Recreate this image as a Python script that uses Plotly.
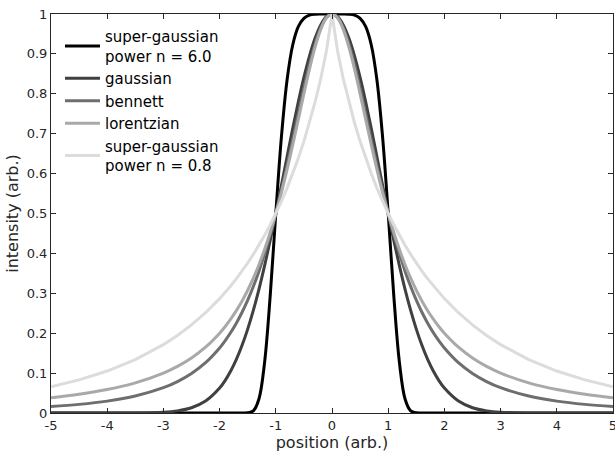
import plotly.graph_objects as go

# ----------------------------------------
# Data
# ----------------------------------------

position = [
    -5, -4.5, -4, -3.5, -3, -2.75, -2.5, -2.25,
    -2.0, -1.9, -1.8, -1.7, -1.6, -1.5, -1.4, -1.3, -1.2, -1.1,
    -1.0, -0.9, -0.8, -0.7, -0.6, -0.5, -0.4, -0.3, -0.2, -0.1,
    0,
    0.1, 0.2, 0.3, 0.4, 0.5, 0.6, 0.7, 0.8, 0.9, 1.0,
    1.1, 1.2, 1.3, 1.4, 1.5, 1.6, 1.7, 1.8, 1.9, 2.0,
    2.25, 2.5, 2.75, 3, 3.5, 4, 4.5, 5
]

super_gaussian_6 = [
    0, 0, 0, 0, 0, 0, 0, 0,
    0, 0, 0, 0, 0, 0.0004, 0.0054, 0.0352, 0.1262, 0.2929,
    0.5, 0.6918, 0.8339, 0.9217, 0.9682, 0.9892, 0.9972, 0.9995, 1.0, 1.0,
    1.0,
    1.0, 1.0, 0.9995, 0.9972, 0.9892, 0.9682, 0.9217, 0.8339, 0.6918, 0.5,
    0.2929, 0.1262, 0.0352, 0.0054, 0.0004, 0, 0, 0, 0, 0,
    0, 0, 0, 0, 0, 0, 0, 0
]

gaussian = [
    0, 0, 0, 0.0002, 0.0020, 0.0053, 0.0131, 0.0299,
    0.0625, 0.0819, 0.1058, 0.1349, 0.1696, 0.2102, 0.2570, 0.3099, 0.3686, 0.4323,
    0.5, 0.5704, 0.6417, 0.7120, 0.7792, 0.8409, 0.8950, 0.9395, 0.9727, 0.9931,
    1.0,
    0.9931, 0.9727, 0.9395, 0.8950, 0.8409, 0.7792, 0.7120, 0.6417, 0.5704, 0.5,
    0.4323, 0.3686, 0.3099, 0.2570, 0.2102, 0.1696, 0.1349, 0.1058, 0.0819, 0.0625,
    0.0299, 0.0131, 0.0053, 0.0020, 0.0002, 0, 0, 0
]

bennett = [
    0.0161, 0.0216, 0.0298, 0.0426, 0.0634, 0.0788, 0.0991, 0.1262,
    0.1631, 0.1814, 0.2022, 0.2257, 0.2524, 0.2827, 0.3169, 0.3555, 0.3988, 0.4469,
    0.5, 0.5578, 0.6196, 0.6843, 0.7500, 0.8142, 0.8739, 0.9256, 0.9658, 0.9913,
    1.0,
    0.9913, 0.9658, 0.9256, 0.8739, 0.8142, 0.7500, 0.6843, 0.6196, 0.5578, 0.5,
    0.4469, 0.3988, 0.3555, 0.3169, 0.2827, 0.2524, 0.2257, 0.2022, 0.1814, 0.1631,
    0.1262, 0.0991, 0.0788, 0.0634, 0.0426, 0.0298, 0.0216, 0.0161
]

lorentzian = [
    0.0385, 0.0471, 0.0588, 0.0755, 0.1000, 0.1168, 0.1379, 0.1649,
    0.2000, 0.2169, 0.2358, 0.2571, 0.2809, 0.3077, 0.3378, 0.3717, 0.4098, 0.4525,
    0.5, 0.5525, 0.6098, 0.6711, 0.7353, 0.8000, 0.8621, 0.9174, 0.9615, 0.9901,
    1.0,
    0.9901, 0.9615, 0.9174, 0.8621, 0.8000, 0.7353, 0.6711, 0.6098, 0.5525, 0.5,
    0.4525, 0.4098, 0.3717, 0.3378, 0.3077, 0.2809, 0.2571, 0.2358, 0.2169, 0.2000,
    0.1649, 0.1379, 0.1168, 0.1000, 0.0755, 0.0588, 0.0471, 0.0385
]

super_gaussian_08 = [
    0.0657, 0.0830, 0.1052, 0.1339, 0.1714, 0.1944, 0.2208, 0.2513,
    0.2867, 0.3024, 0.3191, 0.3368, 0.3557, 0.3759, 0.3975, 0.4205, 0.4451, 0.4716,
    0.5, 0.5306, 0.5636, 0.5994, 0.6382, 0.6808, 0.7275, 0.7795, 0.8382, 0.9067,
    1.0,
    0.9067, 0.8382, 0.7795, 0.7275, 0.6808, 0.6382, 0.5994, 0.5636, 0.5306, 0.5,
    0.4716, 0.4451, 0.4205, 0.3975, 0.3759, 0.3557, 0.3368, 0.3191, 0.3024, 0.2867,
    0.2513, 0.2208, 0.1944, 0.1714, 0.1339, 0.1052, 0.0830, 0.0657
]

x_ticks = [-5, -4, -3, -2, -1, 0, 1, 2, 3, 4, 5]
x_tick_labels = ["-5", "-4", "-3", "-2", "-1", "0", "1", "2", "3", "4", "5"]
y_ticks = [0, 0.1, 0.2, 0.3, 0.4, 0.5, 0.6, 0.7, 0.8, 0.9, 1]
y_tick_labels = ["0", "0.1", "0.2", "0.3", "0.4", "0.5", "0.6", "0.7", "0.8", "0.9", "1"]

series = [
    ("super-gaussian<br>power n = 6.0", super_gaussian_6, "#000000", "spline"),
    ("gaussian", gaussian, "#404040", "spline"),
    ("bennett", bennett, "#6e6e6e", "spline"),
    ("lorentzian", lorentzian, "#a9a9a9", "spline"),
    ("super-gaussian<br>power n = 0.8", super_gaussian_08, "#dcdcdc", "linear"),
]

# ----------------------------------------
# Figure
# ----------------------------------------

fig = go.Figure()

for name, values, colour, shape in series:
    fig.add_trace(go.Scatter(
        x=position,
        y=values,
        mode="lines",
        name=name,
        line=dict(color=colour, width=3, shape=shape)
    ))

axis_style = dict(
    showline=True,
    linecolor="#262626",
    linewidth=1,
    mirror="ticks",
    ticks="inside",
    ticklen=5,
    tickcolor="#262626",
    showgrid=False,
    zeroline=False,
    ticklabeloverflow="allow",
    tickfont=dict(size=13, color="#262626"),
    title_font=dict(size=16, color="#262626")
)

fig.update_xaxes(
    range=[-5, 5],
    tickvals=x_ticks,
    ticktext=x_tick_labels,
    title_text="position (arb.)",
    title_standoff=1,
    **axis_style
)

fig.update_yaxes(
    range=[0, 1],
    tickvals=y_ticks,
    ticktext=y_tick_labels,
    title_text="intensity (arb.)",
    title_standoff=4,
    **axis_style
)

fig.update_layout(
    width=615,
    height=454,
    margin=dict(l=51, r=2, t=14, b=41, autoexpand=False),
    paper_bgcolor="white",
    plot_bgcolor="white",
    font=dict(family="DejaVu Sans", color="#000000"),
    legend=dict(
        x=0.016,
        y=0.985,
        xanchor="left",
        yanchor="top",
        bgcolor="rgba(0,0,0,0)",
        font=dict(size=15, color="#000000"),
        itemwidth=35,
        tracegroupgap=0
    )
)

# the page body has a default 8px margin; drop it so the figure sits at 0,0
fig.write_html(
    "out.html",
    config={"displayModeBar": False},
    post_script="document.body.style.margin='0';"
)
